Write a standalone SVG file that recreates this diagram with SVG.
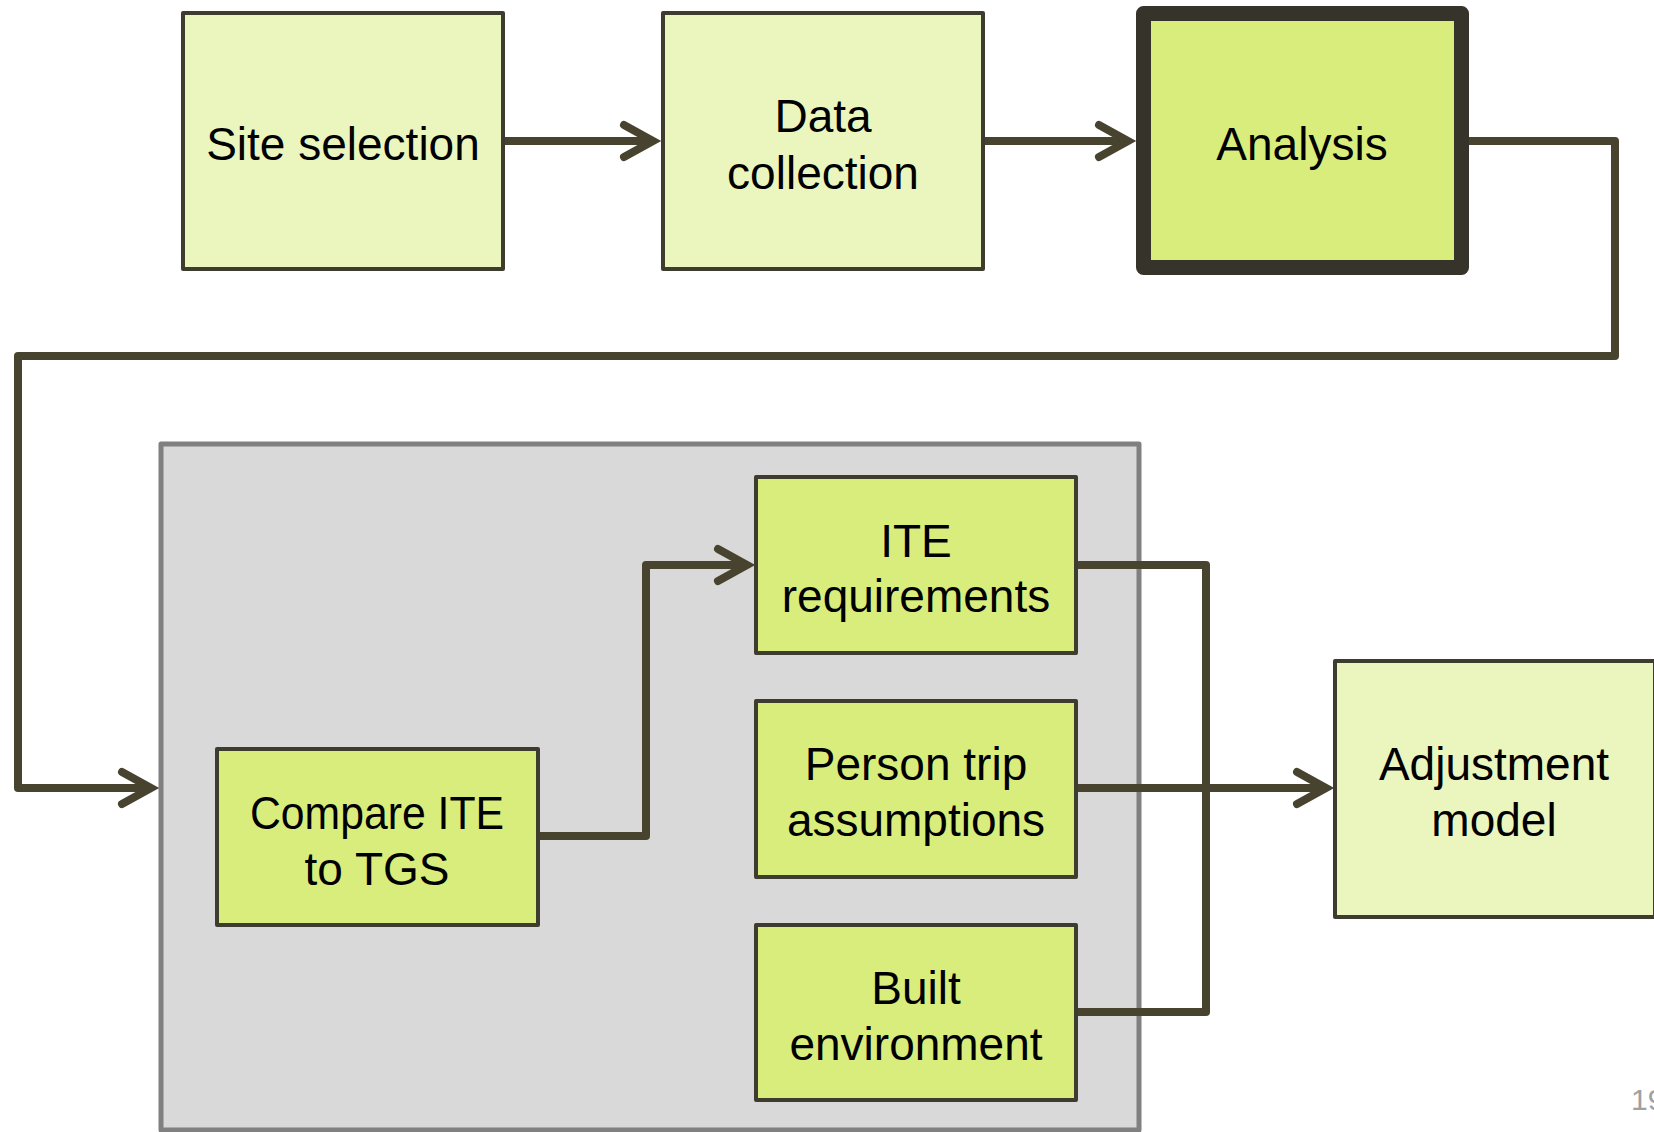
<svg xmlns="http://www.w3.org/2000/svg" width="1654" height="1132" viewBox="0 0 1654 1132">
  <style>
    .box { stroke: #3e3c2e; stroke-width: 4; stroke-linejoin: round; }
    .pale { fill: #ebf6be; }
    .lime { fill: #d8ed7c; }
    .key { stroke: #36342a; stroke-width: 15; }
    .lbl { font-family: "Liberation Sans", Arial, sans-serif; font-size: 46px; fill: #000; text-anchor: middle; }
    .wire { fill: none; stroke: #47432f; stroke-width: 8; stroke-linejoin: round; }
    .page { font-family: "Liberation Sans", Arial, sans-serif; font-size: 30px; fill: #a0a0a0; }
  </style>
  <defs>
    <marker id="arrow" markerUnits="userSpaceOnUse" viewBox="-40 -25 60 50" refX="0" refY="0" markerWidth="60" markerHeight="50" orient="auto" overflow="visible">
      <path d="M-29,-16 L0,0 L-29,16" fill="none" stroke="#47432f" stroke-width="8" stroke-linecap="round" stroke-linejoin="miter"/>
    </marker>
  </defs>

  <rect width="1654" height="1132" fill="#ffffff"/>

  <!-- grouping panel behind the comparison steps -->
  <g id="panel">
    <rect x="161" y="444" width="978" height="686" fill="#d9d9d9" stroke="#808080" stroke-width="5" stroke-linejoin="round"/>
  </g>

  <!-- connectors -->
  <g id="connectors">
    <path class="wire" d="M503,141 H653" marker-end="url(#arrow)"/>
    <path class="wire" d="M983,141 H1128" marker-end="url(#arrow)"/>
    <path class="wire" d="M1467,141 H1615 V356 H18 V788 H151" marker-end="url(#arrow)"/>
    <path class="wire" d="M538,836 H646 V565 H747" marker-end="url(#arrow)"/>
    <path class="wire" d="M1076,565 H1206 V1012 H1076"/>
    <path class="wire" d="M1076,788 H1326" marker-end="url(#arrow)"/>
  </g>

  <g id="site-selection">
    <rect class="box pale" x="183" y="13" width="320" height="256"/>
    <text class="lbl" x="343" y="160">Site selection</text>
  </g>

  <g id="data-collection">
    <rect class="box pale" x="663" y="13" width="320" height="256"/>
    <text class="lbl" x="823" y="132">Data</text>
    <text class="lbl" x="823" y="189">collection</text>
  </g>

  <g id="analysis">
    <rect class="box lime key" x="1143.5" y="13.5" width="318" height="254"/>
    <text class="lbl" x="1302" y="160">Analysis</text>
  </g>

  <g id="compare-ite-tgs">
    <rect class="box lime" x="217" y="749" width="321" height="176"/>
    <text class="lbl" x="377" y="829" textLength="254" lengthAdjust="spacingAndGlyphs">Compare ITE</text>
    <text class="lbl" x="377" y="885">to TGS</text>
  </g>

  <g id="ite-requirements">
    <rect class="box lime" x="756" y="477" width="320" height="176"/>
    <text class="lbl" x="916" y="557">ITE</text>
    <text class="lbl" x="916" y="612">requirements</text>
  </g>

  <g id="person-trip">
    <rect class="box lime" x="756" y="701" width="320" height="176"/>
    <text class="lbl" x="916" y="780">Person trip</text>
    <text class="lbl" x="916" y="836">assumptions</text>
  </g>

  <g id="built-environment">
    <rect class="box lime" x="756" y="925" width="320" height="175"/>
    <text class="lbl" x="916" y="1004">Built</text>
    <text class="lbl" x="916" y="1060">environment</text>
  </g>

  <g id="adjustment-model">
    <rect class="box pale" x="1335" y="661" width="320" height="256"/>
    <text class="lbl" x="1494" y="780">Adjustment</text>
    <text class="lbl" x="1494" y="836">model</text>
  </g>

  <text class="page" x="1631" y="1110">19</text>
</svg>
